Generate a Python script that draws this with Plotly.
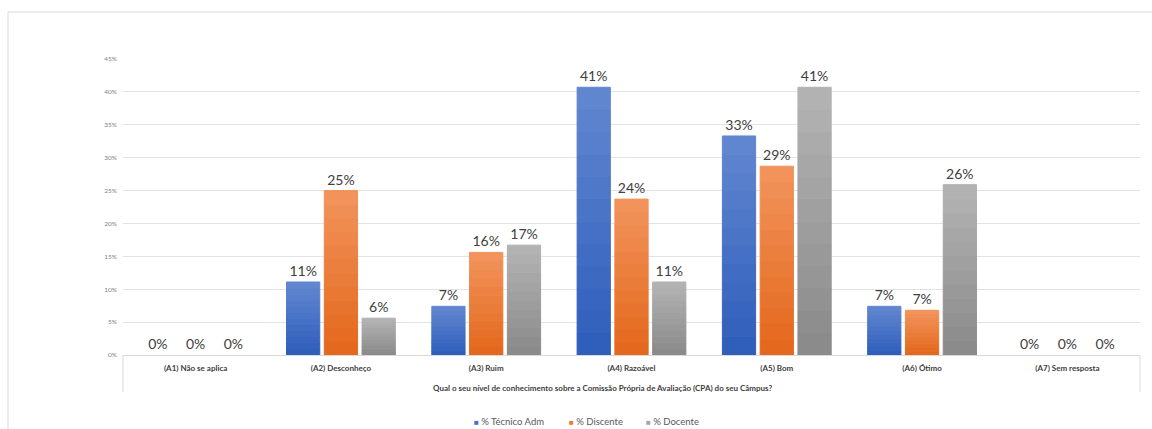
import plotly.graph_objects as go

categories = ["(A1) Não se aplica", "(A2) Desconheço", "(A3) Ruim", "(A4) Razoável",
              "(A5) Bom", "(A6) Ótimo", "(A7) Sem resposta"]
tecnico = [0, 11.1, 7.4, 40.7, 33.3, 7.4, 0]
discente = [0, 25.0, 15.6, 23.7, 28.7, 6.8, 0]
docente = [0, 5.6, 16.7, 11.1, 40.7, 25.9, 0]
series_names = ["% Técnico Adm", "% Discente", "% Docente"]
y_ticks = [0, 5, 10, 15, 20, 25, 30, 35, 40, 45]
y_tick_labels = [f"{t}%" for t in y_ticks]
axis_title = "Qual o seu nível de conhecimento sobre a Comissão Própria de Avaliação (CPA) do seu Câmpus?"

# (top colour, bottom colour, legend colour)
palette = [("#6388d1", "#2d5cba", "#4472c4"),
           ("#f2955d", "#e3661a", "#ed7d31"),
           ("#b4b4b4", "#898989", "#a5a5a5")]

N_SEG = 12
FONT = "Lato"
L, R, T, B, W, H = 123, 12, 59, 74, 1152, 429
PW, PH = W - L - R, H - T - B


def px_x(px):
    return (px - L) / PW


def px_y(py):
    return (H - B - py) / PH


def hex2rgb(h):
    h = h.lstrip("#")
    return [int(h[i:i + 2], 16) for i in (0, 2, 4)]


def lerp(c0, c1, t):
    a, b = hex2rgb(c0), hex2rgb(c1)
    return "rgb(%d,%d,%d)" % tuple(round(a[i] + (b[i] - a[i]) * t) for i in range(3))


fig = go.Figure()
for s, (name, vals) in enumerate(zip(series_names, [tecnico, discente, docente])):
    top, bottom, mid = palette[s]
    line_w = [1 if v > 0 else 0 for v in vals]
    for k in range(N_SEG):
        col = lerp(bottom, top, (k + 0.5) / N_SEG)
        last = k == N_SEG - 1
        fig.add_trace(go.Bar(
            x=categories, y=[v / N_SEG for v in vals],
            offsetgroup=str(s), name=name, showlegend=False,
            marker=dict(color=col, line=dict(color=col, width=line_w)),
            text=[f"{round(v)}%" for v in vals] if last else None,
            textposition="outside" if last else "none",
            textfont=dict(family=FONT, size=14, color="#404040"),
            cliponaxis=False, hoverinfo="skip",
        ))

legend_left_px = [472, 567, 644]
legend_anns = []
for s, name in enumerate(series_names):
    legend_anns.append(dict(
        text=f'<span style="color:{palette[s][2]};font-size:8px">■</span> {name}',
        xref="paper", yref="paper", x=px_x(legend_left_px[s]), y=px_y(421),
        xanchor="left", yanchor="middle", showarrow=False,
        font=dict(family=FONT, size=9.5, color="#595959")))

fig.update_layout(
    width=W, height=H,
    margin=dict(l=L, r=R, t=T, b=B),
    paper_bgcolor="white", plot_bgcolor="white",
    barmode="relative", bargap=0.22, bargroupgap=0.12,
    font=dict(family=FONT, color="#595959"),
    showlegend=False,
    xaxis=dict(showline=True, linecolor="#d9d9d9", linewidth=1,
               ticks="outside", ticklen=5, tickcolor="rgba(0,0,0,0)",
               tickmode="array", tickvals=categories,
               ticktext=[f"<b>{c}</b>" for c in categories],
               tickfont=dict(family=FONT, size=8, color="#404040")),
    yaxis=dict(range=[0, 45], tickmode="array", tickvals=y_ticks, ticktext=y_tick_labels,
               tickfont=dict(family=FONT, size=6.5, color="#7f7f7f"),
               showgrid=True, gridcolor="#e3e3e3", gridwidth=1,
               zeroline=False, showline=False, ticklabelstandoff=5),
    shapes=[
        dict(type="rect", xref="paper", yref="paper", x0=px_x(8), y0=px_y(12), x1=1.05, y1=-0.5,
             line=dict(color="#d9d9d9", width=1), fillcolor="rgba(0,0,0,0)", layer="below"),
        dict(type="line", xref="paper", yref="paper", x0=0, x1=0, y0=0, y1=px_y(392),
             line=dict(color="#d9d9d9", width=1)),
        dict(type="line", xref="paper", yref="paper", x0=1, x1=1, y0=0, y1=px_y(392),
             line=dict(color="#d9d9d9", width=1)),
    ],
    annotations=[
        dict(text=f"<b>{axis_title}</b>", xref="paper", yref="paper", x=px_x(602), y=px_y(388),
             showarrow=False, xanchor="center", yanchor="middle",
             font=dict(family=FONT, size=8, color="#404040")),
    ] + legend_anns,
)

fig.write_html("out.html", config={"displayModeBar": False},
               post_script="document.body.style.margin='0';document.body.style.overflow='hidden';")
